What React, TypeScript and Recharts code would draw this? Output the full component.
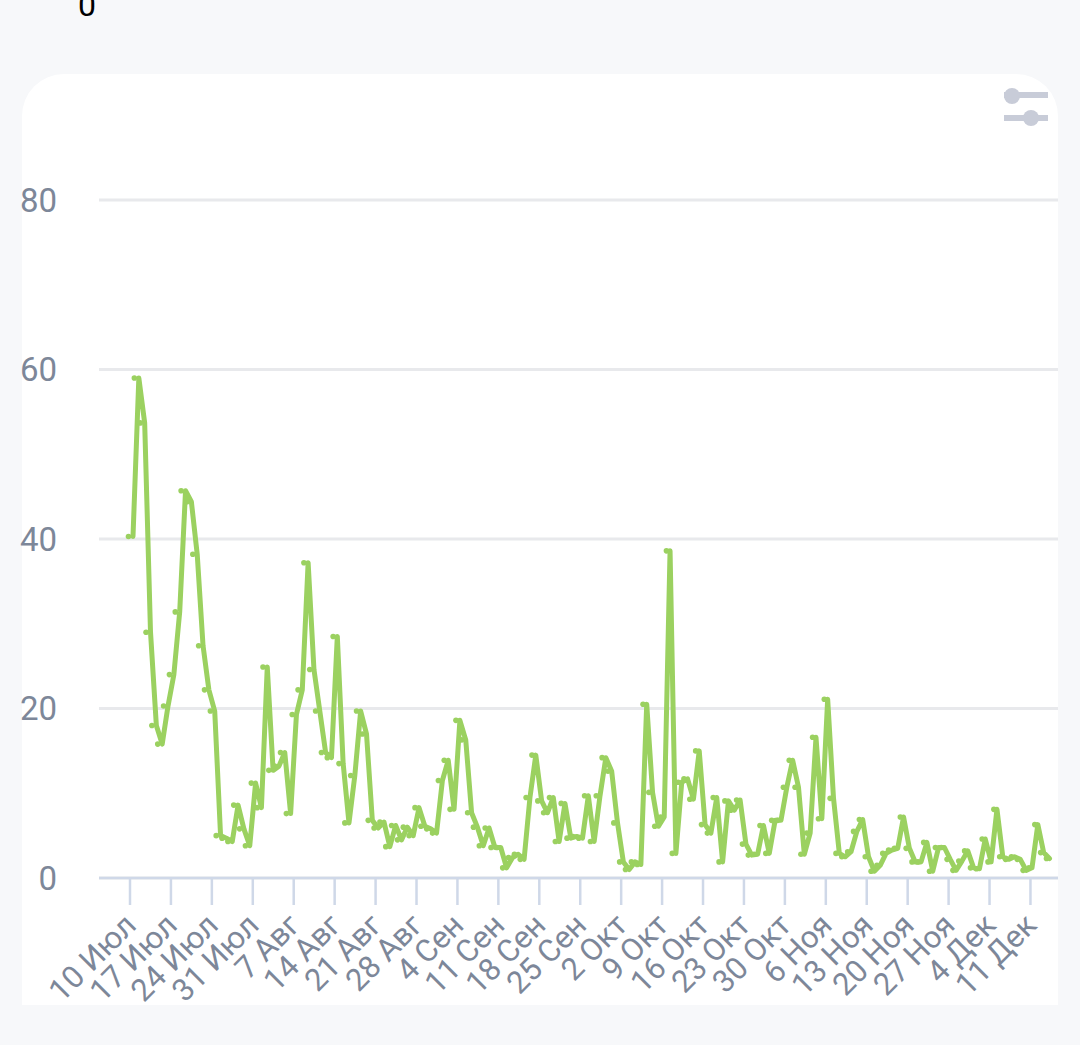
import { LineChart, Line, XAxis, YAxis, CartesianGrid } from 'recharts'

const tickLabels = [
    '10 Июл', '17 Июл', '24 Июл', '31 Июл', '7 Авг', '14 Авг', '21 Авг', '28 Авг',
    '4 Сен', '11 Сен', '18 Сен', '25 Сен', '2 Окт', '9 Окт', '16 Окт', '23 Окт',
    '30 Окт', '6 Ноя', '13 Ноя', '20 Ноя', '27 Ноя', '4 Дек', '11 Дек',
]
const tickDays = tickLabels.map((_, i) => i * 7)
const yTicks = [0, 20, 40, 60, 80]

// one reading per day, from 10 Июл
const julyAugust = [
    40.3, 59.0, 53.7, 29.0, 18.0, 15.8, 20.3, 24.0, 31.4, 45.7, 44.4, 38.2, 27.4, 22.2, 19.7, 5.0, 4.7,
    4.3, 8.6, 5.8, 3.8, 11.2, 8.3, 24.9, 12.7, 13.2, 14.8, 7.6, 19.3, 22.2, 37.2, 24.6, 19.7, 14.8, 14.2,
    28.5, 13.5, 6.5, 12.1, 19.7, 17.0, 6.8, 5.9, 6.6, 3.7, 6.2, 4.5, 6.0, 5.0, 8.3,
]
const septemberOctober = [
    6.1, 5.8, 5.3, 11.5, 13.9, 8.1, 18.6, 16.3, 7.7, 6.0, 3.8, 5.9, 3.6, 3.6, 1.2, 2.4, 2.8, 2.2, 9.5,
    14.5, 9.1, 7.7, 9.5, 4.3, 8.8, 4.7, 4.9, 4.7, 9.7, 4.3, 9.7, 14.2, 12.6, 6.5, 1.9, 1.0, 1.9, 1.6,
    20.5, 10.1, 6.1, 7.2, 38.6, 2.9, 11.3, 11.7, 9.3, 15.0, 6.3, 5.3, 9.5, 1.9, 9.1, 8.0, 9.2,
]
const novemberDecember = [
    4.0, 2.7, 2.8, 6.2, 2.9, 6.8, 6.8, 10.7, 13.9, 10.7, 2.8, 5.3, 16.6, 7.0, 21.1, 9.4, 2.9, 2.5, 3.1,
    5.5, 6.9, 2.5, 0.8, 1.5, 2.9, 3.3, 3.5, 7.2, 3.5, 1.9, 1.9, 4.2, 0.8, 3.6, 3.6, 2.2, 0.9, 2.0, 3.2,
    1.2, 1.1, 4.6, 1.9, 8.1, 2.5, 2.2, 2.5, 2.2, 0.9, 1.2, 6.3, 3.0, 2.3,
]

const values = [...julyAugust, ...septemberOctober, ...novemberDecember]
const chartData = values.map((value, day) => ({ day, value }))

const GREEN = '#9BD160'
const LABEL = '#7D8799'

// the small dots sit a little left of the line's corners
function OffsetDot(props: any) {
    const { cx, cy, index } = props
    return <circle key={index} cx={cx - 1.5} cy={cy} r={2.8} fill={GREEN} />
}

function DateTick(props: any) {
    const { x, y, payload } = props
    return (
        <g transform={`translate(${x + 8},${y + 22})`}>
            <text transform="rotate(-45)" textAnchor="end" fill={LABEL} fontSize={31} fontFamily="Roboto">
                {tickLabels[payload.value / 7]}
            </text>
        </g>
    )
}

function FilterIcon() {
    return (
        <svg width={60} height={50} style={{ position: 'absolute', left: 996, top: 82 }}>
            <g fill="#C8CCD8">
                <rect x={8} y={10} width={44} height={6} />
                <circle cx={16} cy={14} r={8} />
                <rect x={8} y={33} width={44} height={6} />
                <circle cx={35} cy={36} r={8} />
            </g>
        </svg>
    )
}

export default function App() {
    return (
        <div style={{ position: 'absolute', left: 0, top: 0, width: 1080, height: 1045, background: '#F7F8FA', overflow: 'hidden', fontFamily: 'Roboto' }}>
            <div style={{ position: 'absolute', left: 78, top: -14, fontSize: 32, color: '#000' }}>0</div>
            <div style={{ position: 'absolute', left: 22, top: 74, width: 1036, height: 931, background: '#fff', borderRadius: '42px 42px 0 0' }} />
            <LineChart
                width={1080}
                height={1045}
                data={chartData}
                margin={{ top: 200, right: 22, bottom: 67, left: 0 }}
                style={{ position: 'absolute', left: 0, top: 0 }}
            >
                <CartesianGrid xAxisId="ticks" vertical={false} stroke="#E8E9EC" strokeWidth={3} />
                <XAxis
                    xAxisId="ticks"
                    dataKey="day"
                    type="number"
                    domain={[0, 157]}
                    ticks={tickDays}
                    interval={0}
                    padding={{ left: 31, right: 10 }}
                    height={100}
                    tickSize={27}
                    tickMargin={0}
                    stroke="#CFD8E8"
                    strokeWidth={2.5}
                    tick={DateTick}
                />
                <XAxis
                    xAxisId="line"
                    orientation="top"
                    dataKey="day"
                    type="number"
                    domain={[0, 157]}
                    hide
                    height={0}
                    padding={{ left: 34, right: 8.5 }}
                />
                <YAxis
                    domain={[0, 80]}
                    ticks={yTicks}
                    width={99}
                    axisLine={false}
                    tickLine={false}
                    tickMargin={36}
                    tick={{ fill: LABEL, fontSize: 33, fontFamily: 'Roboto' }}
                />
                <Line
                    xAxisId="line"
                    dataKey="value"
                    type="linear"
                    stroke={GREEN}
                    strokeWidth={5}
                    strokeLinejoin="round"
                    strokeLinecap="round"
                    dot={false}
                    isAnimationActive={false}
                />
                <Line
                    xAxisId="ticks"
                    dataKey="value"
                    type="linear"
                    stroke="none"
                    dot={OffsetDot}
                    isAnimationActive={false}
                />
            </LineChart>
            <FilterIcon />
        </div>
    )
}
